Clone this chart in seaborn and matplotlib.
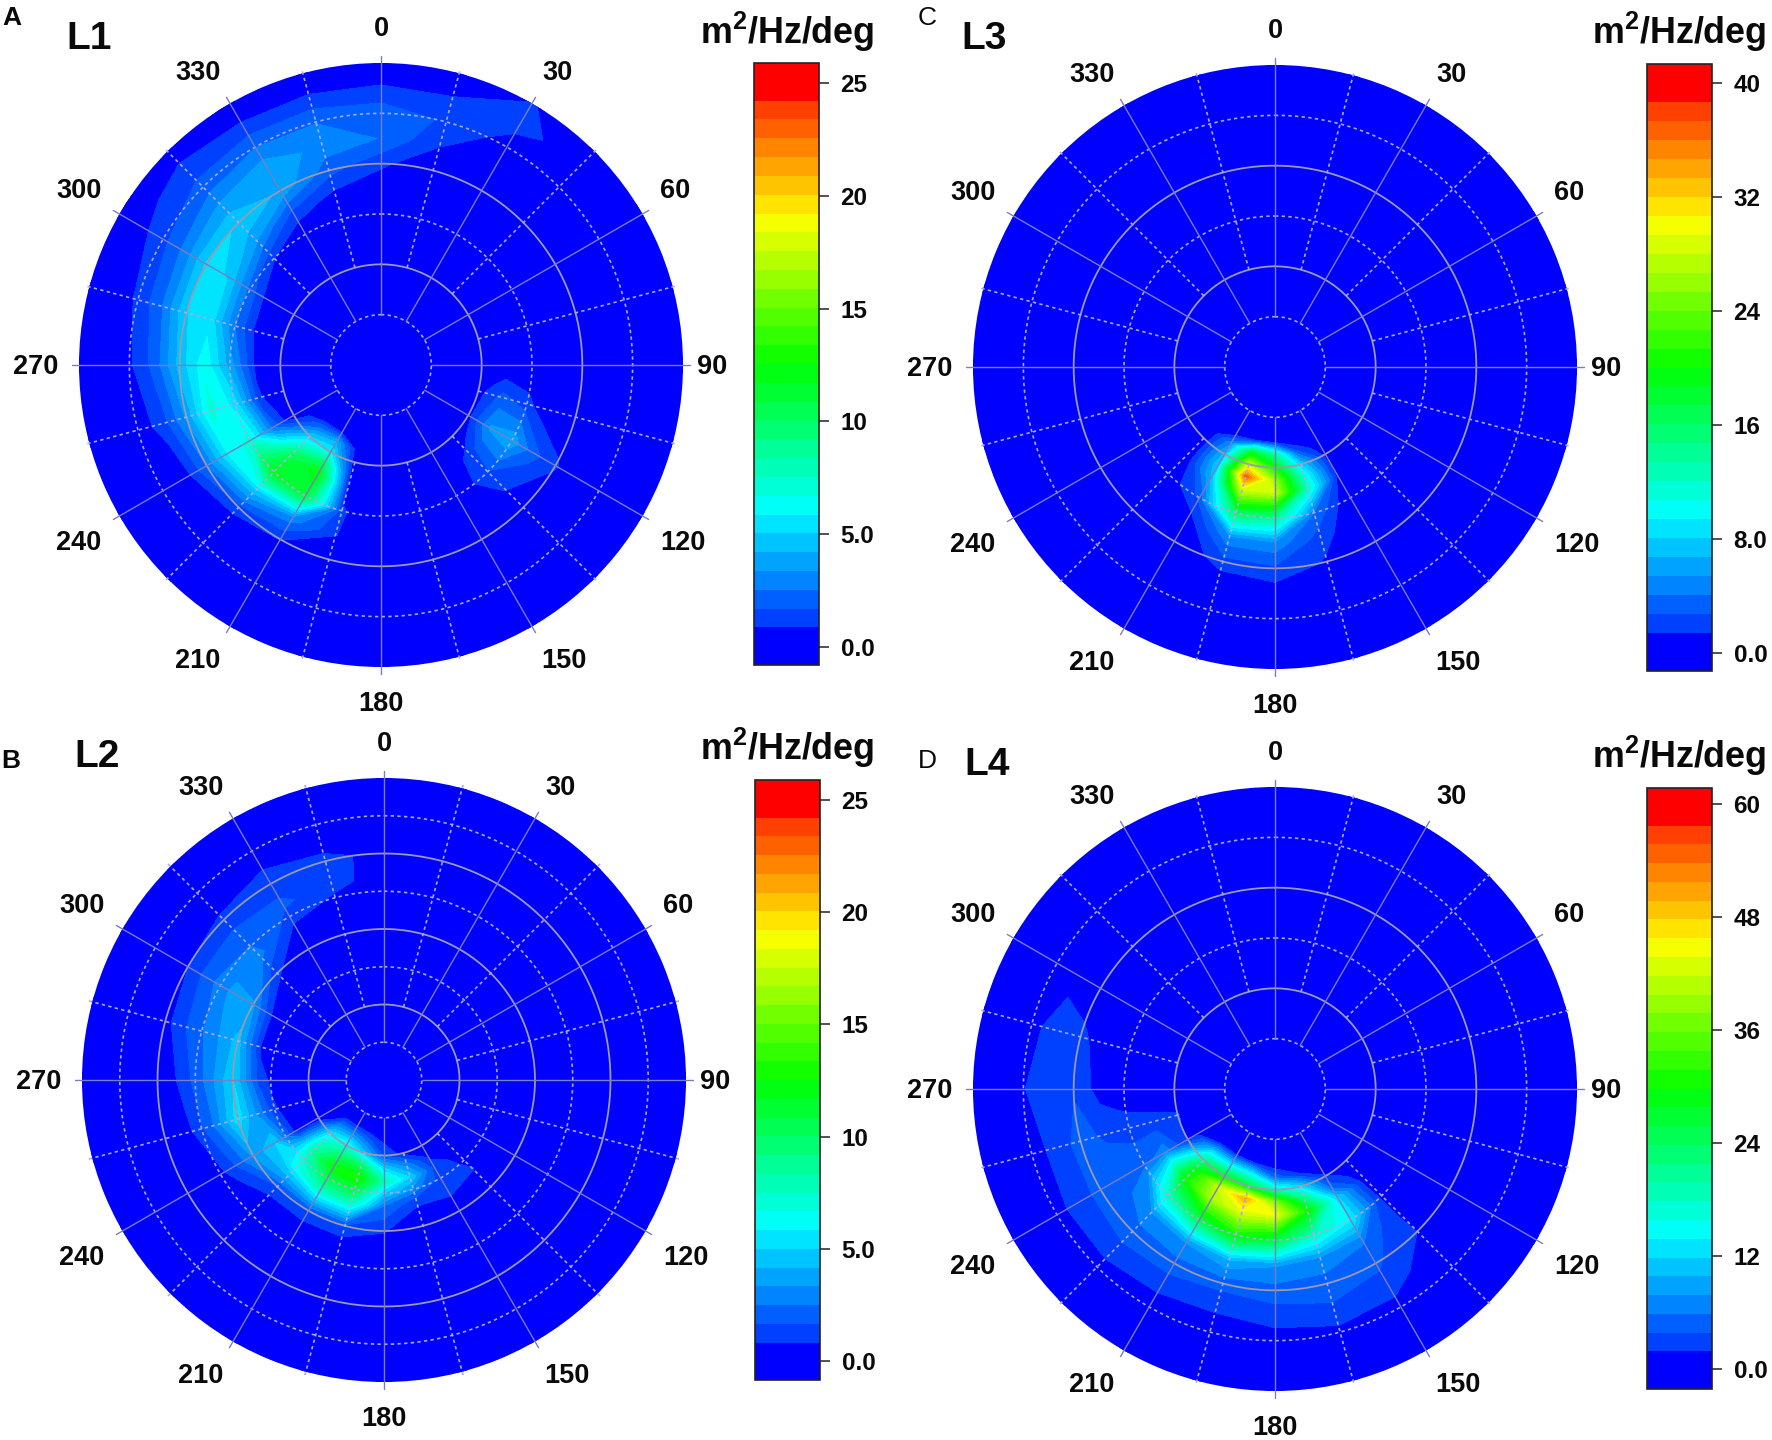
import numpy as np
import seaborn as sns
import matplotlib.pyplot as plt

directions = [0, 15, 30, 45, 60, 75, 90, 105, 120, 135, 150, 165, 180, 195, 210, 225, 240, 255, 270, 285, 300, 315, 330, 345]
radii = [1, 1.5, 1.75, 2, 2.25, 2.5, 3, 3.5, 4, 4.5, 5, 5.5, 6]

# one row per radius, one column per direction
l1_values = [
    [0,   0,   0,   0,   0, 0, 0, 0,   0,   0,   0, 0, 0, 0,   0,    0,   0,   0,   0,   0,   0,   0,   0,   0],
    [0,   0,   0,   0,   0, 0, 0, 0,   0,   0,   0, 0, 0, 0,   0,    0,   0,   0,   0,   0,   0,   0,   0,   0],
    [0,   0,   0,   0,   0, 0, 0, 0.4, 0.4, 0,   0, 0, 0, 0.2, 4,    2.5, 0,   0,   0,   0,   0,   0,   0,   0],
    [0,   0,   0,   0,   0, 0, 0, 0.5, 0.5, 0,   0, 0, 0, 0.3, 6,    5,   0,   0,   0,   0,   0,   0,   0,   0],
    [0,   0,   0,   0,   0, 0, 0, 1.2, 2,   0.6, 0, 0, 0, 0.3, 10,   7.5, 1,   0.4, 0.3, 0,   0,   0,   0,   0],
    [0,   0,   0,   0,   0, 0, 0, 2,   3.5, 1.2, 0, 0, 0, 0.4, 12.5, 10,  2.5, 1,   0.7, 0.3, 0,   0,   0,   0],
    [0,   0,   0,   0,   0, 0, 0, 1.2, 4,   1.6, 0, 0, 0, 1,   11,   12,  7,   5.5, 3.8, 2.5, 2.2, 0.9, 0,   0],
    [0,   0,   0,   0,   0, 0, 0, 0,   2,   0.9, 0, 0, 0, 0.9, 3,    5,   6,   7,   6.5, 5.5, 5,   3.5, 1.5, 0.6],
    [1.1, 0,   0,   0,   0, 0, 0, 0,   1,   0,   0, 0, 0, 0,   0.9,  1.3, 2.5, 3.5, 4.5, 5,   5.2, 5,   4,   2],
    [2.5, 0.9, 0,   0,   0, 0, 0, 0,   0,   0,   0, 0, 0, 0,   0,    0,   0.3, 1.2, 2,   2.5, 2.8, 3.5, 4,   3],
    [2.2, 1.6, 0.5, 0,   0, 0, 0, 0,   0,   0,   0, 0, 0, 0,   0,    0,   0,   0.4, 0.7, 1,   1.4, 2,   2.5, 2.5],
    [1,   0.9, 1.1, 0.5, 0, 0, 0, 0,   0,   0,   0, 0, 0, 0,   0,    0,   0,   0,   0,   0.3, 0.6, 1.2, 1,   1],
    [0,   0,   0.9, 0.5, 0, 0, 0, 0,   0,   0,   0, 0, 0, 0,   0,    0,   0,   0,   0,   0,   0,   0.2, 0,   0],
]

l2_values = [
    [0,   0, 0, 0, 0, 0, 0, 0, 0, 0,   0,   0,   0,   0,   0,    0,   0,   0,   0,   0,   0,   0,   0,   0],
    [0,   0, 0, 0, 0, 0, 0, 0, 0, 0,   0,   0.5, 1.5, 4.5, 7,    5.5, 0,   0,   0,   0,   0,   0,   0,   0],
    [0,   0, 0, 0, 0, 0, 0, 0, 0, 0.2, 0.6, 3,   5,   10,  10,   7.5, 0.1, 0,   0,   0,   0,   0,   0,   0],
    [0,   0, 0, 0, 0, 0, 0, 0, 0, 0.4, 1.3, 5,   8,   13,  12.5, 8.5, 0.3, 0.2, 0,   0,   0,   0,   0,   0],
    [0,   0, 0, 0, 0, 0, 0, 0, 0, 0.7, 1.3, 3,   5,   11,  10.5, 7.5, 2.5, 1,   0.6, 0.2, 0,   0,   0,   0],
    [0,   0, 0, 0, 0, 0, 0, 0, 0, 0.85, 1.2, 1,  2.5, 8,   8,    6,   5,   2.5, 1.5, 0.5, 0.3, 0,   0,   0],
    [0,   0, 0, 0, 0, 0, 0, 0, 0, 0,   0,   0,   0.9, 1.5, 1.5,  1.5, 3.5, 5.5, 5,   4.5, 3.5, 1,   0,   0],
    [0,   0, 0, 0, 0, 0, 0, 0, 0, 0,   0,   0,   0,   0,   0,    0,   1.2, 2.5, 2.8, 3,   3.5, 2.8, 0.6, 0],
    [0.3, 0, 0, 0, 0, 0, 0, 0, 0, 0,   0,   0,   0,   0,   0,    0,   0,   0.6, 1.1, 1.8, 2.2, 2.2, 1.8, 1.2],
    [0.4, 0, 0, 0, 0, 0, 0, 0, 0, 0,   0,   0,   0,   0,   0,    0,   0,   0,   0,   0.5, 0.8, 1,   1.4, 1.2],
    [0,   0, 0, 0, 0, 0, 0, 0, 0, 0,   0,   0,   0,   0,   0,    0,   0,   0,   0,   0,   0,   0.3, 0.5, 0],
    [0,   0, 0, 0, 0, 0, 0, 0, 0, 0,   0,   0,   0,   0,   0,    0,   0,   0,   0,   0,   0,   0,   0,   0],
    [0,   0, 0, 0, 0, 0, 0, 0, 0, 0,   0,   0,   0,   0,   0,    0,   0,   0,   0,   0,   0,   0,   0,   0],
]

l3_values = [
    [0, 0, 0, 0, 0, 0, 0, 0, 0, 0, 0,   0,   0,   0,   0,   0,   0, 0, 0, 0, 0, 0, 0, 0],
    [0, 0, 0, 0, 0, 0, 0, 0, 0, 0, 0,   0,   1.2, 1,   0,   0,   0, 0, 0, 0, 0, 0, 0, 0],
    [0, 0, 0, 0, 0, 0, 0, 0, 0, 0, 0,   3,   14,  18,  5,   0,   0, 0, 0, 0, 0, 0, 0, 0],
    [0, 0, 0, 0, 0, 0, 0, 0, 0, 0, 0.8, 8,   20,  28,  7,   0,   0, 0, 0, 0, 0, 0, 0, 0],
    [0, 0, 0, 0, 0, 0, 0, 0, 0, 0, 1,   11,  26,  37,  8,   0,   0, 0, 0, 0, 0, 0, 0, 0],
    [0, 0, 0, 0, 0, 0, 0, 0, 0, 0, 0.8, 12,  28,  29,  7,   0,   0, 0, 0, 0, 0, 0, 0, 0],
    [0, 0, 0, 0, 0, 0, 0, 0, 0, 0, 0,   4,   14,  16,  3,   0.3, 0, 0, 0, 0, 0, 0, 0, 0],
    [0, 0, 0, 0, 0, 0, 0, 0, 0, 0, 0,   2,   5,   5,   0.5, 0,   0, 0, 0, 0, 0, 0, 0, 0],
    [0, 0, 0, 0, 0, 0, 0, 0, 0, 0, 0,   1.2, 2.5, 2.2, 0,   0,   0, 0, 0, 0, 0, 0, 0, 0],
    [0, 0, 0, 0, 0, 0, 0, 0, 0, 0, 0,   0,   0.5, 0,   0,   0,   0, 0, 0, 0, 0, 0, 0, 0],
    [0, 0, 0, 0, 0, 0, 0, 0, 0, 0, 0,   0,   0,   0,   0,   0,   0, 0, 0, 0, 0, 0, 0, 0],
    [0, 0, 0, 0, 0, 0, 0, 0, 0, 0, 0,   0,   0,   0,   0,   0,   0, 0, 0, 0, 0, 0, 0, 0],
    [0, 0, 0, 0, 0, 0, 0, 0, 0, 0, 0,   0,   0,   0,   0,   0,   0, 0, 0, 0, 0, 0, 0, 0],
]

l4_values = [
    [0, 0, 0, 0, 0, 0, 0, 0, 0, 0,   0,   0,   0,   0,   0,   0,   0,   0,   0,   0,   0, 0, 0, 0],
    [0, 0, 0, 0, 0, 0, 0, 0, 0, 0,   0,   0,   0,   0.5, 1,   0.5, 0,   0,   0,   0,   0, 0, 0, 0],
    [0, 0, 0, 0, 0, 0, 0, 0, 0, 0,   0.5, 2,   5,   14,  14,  12,  0.7, 0.8, 0,   0,   0, 0, 0, 0],
    [0, 0, 0, 0, 0, 0, 0, 0, 0, 0,   2,   12,  18,  26,  28,  22,  1.5, 2,   0,   0,   0, 0, 0, 0],
    [0, 0, 0, 0, 0, 0, 0, 0, 0, 0,   5,   22,  38,  50,  42,  28,  4,   2.3, 0,   0,   0, 0, 0, 0],
    [0, 0, 0, 0, 0, 0, 0, 0, 0, 0,   12,  30,  44,  44,  40,  30,  7,   2.5, 0,   0,   0, 0, 0, 0],
    [0, 0, 0, 0, 0, 0, 0, 0, 0, 0.8, 14,  18,  26,  30,  25,  18,  5,   3,   0,   0,   0, 0, 0, 0],
    [0, 0, 0, 0, 0, 0, 0, 0, 0, 1.5, 6,   7,   8,   10,  8,   7,   5,   3.5, 1,   0.5, 0, 0, 0, 0],
    [0, 0, 0, 0, 0, 0, 0, 0, 0, 1.8, 4.2, 5,   5,   4.5, 5,   5,   4.5, 4.5, 3.6, 2.5, 0, 0, 0, 0],
    [0, 0, 0, 0, 0, 0, 0, 0, 0, 0.3, 3,   3.5, 2.8, 2.2, 2.5, 3,   2.8, 2.8, 3.2, 3,   1, 0, 0, 0],
    [0, 0, 0, 0, 0, 0, 0, 0, 0, 0,   0.8, 1.2, 0.8, 0.3, 0.5, 0.8, 1,   0.5, 1.7, 1,   0, 0, 0, 0],
    [0, 0, 0, 0, 0, 0, 0, 0, 0, 0,   0,   0,   0,   0,   0,   0,   0,   0,   0,   0,   0, 0, 0, 0],
    [0, 0, 0, 0, 0, 0, 0, 0, 0, 0,   0,   0,   0,   0,   0,   0,   0,   0,   0,   0,   0, 0, 0, 0],
]

panel_letters = ['A', 'B', 'C', 'D']
letter_weights = ['bold', 'bold', 'normal', 'normal']
panel_names = ['L1', 'L2', 'L3', 'L4']
panel_values = [l1_values, l2_values, l3_values, l4_values]
bar_ranges = [(-0.8, 25.9), (-0.85, 25.9), (-1.27, 41.3), (-2.17, 61.7)]
bar_ticks = [[0, 5, 10, 15, 20, 25], [0, 5, 10, 15, 20, 25], [0, 8, 16, 24, 32, 40], [0, 12, 24, 36, 48, 60]]
bar_labels = [['0.0', '5.0', '10', '15', '20', '25'], ['0.0', '5.0', '10', '15', '20', '25'],
              ['0.0', '8.0', '16', '24', '32', '40'], ['0.0', '12', '24', '36', '48', '60']]
ring_counts = [6, 8, 6, 6]

# pixel layout: circle centre, colorbar box, text spots
W, H = 1772, 1440
R_PX = 302
centres = [(381, 365), (384, 1080), (1275, 367), (1275, 1089)]
bar_boxes = [(754, 63, 819, 665), (755, 780, 820, 1380), (1647, 64, 1712, 671), (1647, 788, 1712, 1389)]
letter_spots = [(12, 18), (11, 761), (927, 18), (927, 761)]
name_spots = [(89, 39), (97, 757), (984, 39), (987, 765)]
unit_spots = [(787, 32), (787, 748), (1679, 32), (1679, 756)]
angle_offsets = {0: (0, -336), 30: (176, -292), 60: (294, -174), 90: (331, 2), 120: (302, 178), 150: (183, 296),
                 180: (0, 339), 210: (-183, 296), 240: (-302, 178), 270: (-345, 2), 300: (-302, -174), 330: (-183, -292)}

sns.set_theme(style='white')
plt.rcParams['font.family'] = ['Liberation Sans', 'DejaVu Sans']
plt.rcParams['font.weight'] = 'bold'
plt.rcParams['mathtext.default'] = 'regular'

jet_bands = sns.blend_palette(['#0000ff', '#00ffff', '#00ff00', '#ffff00', '#ff0000'], n_colors=32)
# the two end bands of the key are flat
jet_bands[1] = jet_bands[0]
jet_bands[-2] = jet_bands[-1]

fig = plt.figure(figsize=(W / 100, H / 100), dpi=100, facecolor='white')


def place(x0, y0, x1, y1):
    return [x0 / W, 1 - y1 / H, (x1 - x0) / W, (y1 - y0) / H]


def put(x, y, s, **kw):
    fig.text(x / W, 1 - y / H, s, ha='center', va='center', color='#0a0a0a', **kw)


theta = np.deg2rad(directions + [360])
solid_spoke = '#7c7cc4'
dash_line = '#a8a8ec'

for i in range(4):
    cx, cy = centres[i]
    ax = fig.add_axes(place(cx - R_PX, cy - R_PX, cx + R_PX, cy + R_PX), projection='polar')
    ax.set_theta_zero_location('N')
    ax.set_theta_direction(-1)
    ax.set_facecolor('#0000ff')

    z = np.array(panel_values[i], dtype=float)
    z = np.column_stack([z, z[:, 0]])
    levels = np.linspace(bar_ranges[i][0], bar_ranges[i][1], 33)
    cs = ax.contourf(theta, radii, z, levels=levels, colors=jet_bands)

    ax.set_ylim(0, 6)
    ax.grid(False)
    ax.set_xticks([])
    ax.set_yticks([])
    ax.spines['polar'].set_visible(False)

    # rings: dashed and solid in turn
    step = 6 / ring_counts[i]
    circle = np.linspace(0, 2 * np.pi, 361)
    for k in range(1, ring_counts[i]):
        if k % 2:
            ax.plot(circle, [k * step] * 361, color=dash_line, lw=1.2, ls=(0, (2, 2)))
        else:
            ax.plot(circle, [k * step] * 361, color='#9a9ab0', lw=1.3)

    # spokes
    for ang in range(0, 360, 15):
        a = np.deg2rad(ang)
        if ang % 30 == 0:
            ax.plot([a, a], [step, 6.14], color=solid_spoke, lw=1.0, clip_on=False)
            dx, dy = angle_offsets[ang]
            put(cx + dx, cy + dy, str(ang), fontsize=19.5)
        else:
            ax.plot([a, a], [2 * step, 6.1], color=dash_line, lw=1.2, ls=(0, (2, 2)), clip_on=False)

    cax = fig.add_axes(place(*bar_boxes[i]))
    cb = fig.colorbar(cs, cax=cax, ticks=bar_ticks[i])
    cb.ax.set_yticklabels(bar_labels[i], fontsize=17.5, color='#0a0a0a')
    cb.ax.tick_params(axis='y', length=7.5, width=1.1, color='#222222', pad=8, right=True)
    cb.outline.set_edgecolor('#222222')
    cb.outline.set_linewidth(1.2)

    put(*letter_spots[i], panel_letters[i], fontsize=19, fontweight=letter_weights[i])
    put(*name_spots[i], panel_names[i], fontsize=28)
    put(*unit_spots[i], 'm$^{2}$/Hz/deg', fontsize=25.8)

fig.savefig('out.png', dpi=100)
